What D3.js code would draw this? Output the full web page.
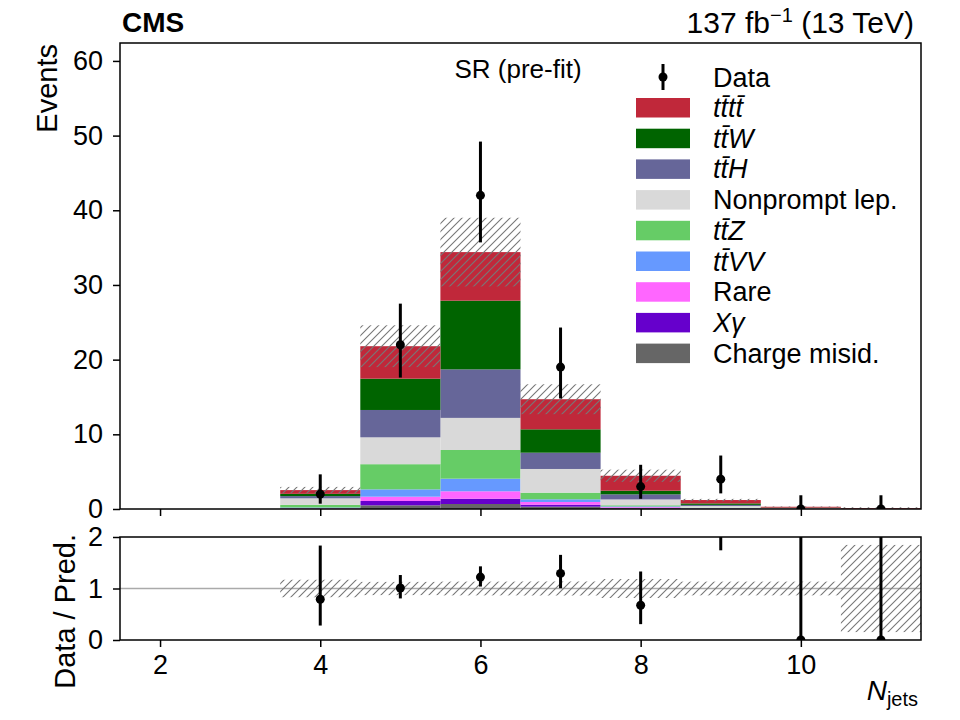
<!DOCTYPE html>
<html><head><meta charset="utf-8">
<script src="https://cdn.jsdelivr.net/npm/d3@7"></script>
<style>
body{margin:0;background:#fff;}
text{font-family:"Liberation Sans",Arial,Helvetica,sans-serif;fill:#000;}
</style></head>
<body><svg id="c" width="960" height="720"></svg>
<script>
// ---- data ----
const bins = [2,3,4,5,6,7,8,9,10,11];
const chargeMisid = [0,0,0.02,0.49,0.67,0.31,0.10,0.03,0.01,0.00];
const xGamma      = [0,0,0.03,0.58,0.71,0.27,0.05,0.02,0.00,0.00];
const rare        = [0,0,0.05,0.58,0.99,0.36,0.10,0.03,0.01,0.00];
const ttVV        = [0,0,0.10,0.98,1.69,0.36,0.10,0.04,0.01,0.00];
const ttZ         = [0,0,0.35,3.37,3.84,0.89,0.15,0.06,0.02,0.00];
const nonprompt   = [0,0,0.88,3.60,4.30,3.17,0.78,0.22,0.05,0.01];
const ttH         = [0,0,0.30,3.66,6.50,2.18,0.68,0.15,0.04,0.01];
const ttW         = [0,0,0.30,4.19,9.20,3.13,0.49,0.20,0.04,0.01];
const tttt        = [0,0,0.50,4.35,6.50,4.03,2.00,0.45,0.12,0.10];
const totalUnc    = [0,0,0.43,2.8,4.6,2.0,0.82,0.16,0.04,0.11];
const dataVals    = [null,null,2,22,42,19,3,4,0,0];
const dataLow     = [null,null,0.71,17.6,35.7,14.8,1.37,2.09,0,0];
const dataHigh    = [null,null,4.64,27.5,49.2,24.3,5.92,7.16,1.84,1.84];
const yTicksMain  = [0,10,20,30,40,50,60];
const yTicksRatio = [0,1,2];
const xTicks      = [2,4,6,8,10];

const procs = [
  {key:"charge", label:"Charge misid.", color:"#666666", vals:chargeMisid, it:false},
  {key:"xg", label:"Xγ", color:"#6600cc", vals:xGamma, it:true},
  {key:"rare", label:"Rare", color:"#ff66ff", vals:rare, it:false},
  {key:"ttvv", label:"tt\u0304VV", color:"#6699ff", vals:ttVV, it:true},
  {key:"ttz", label:"tt\u0304Z", color:"#66cc66", vals:ttZ, it:true},
  {key:"np", label:"Nonprompt lep.", color:"#d9d9d9", vals:nonprompt, it:false},
  {key:"tth", label:"tt\u0304H", color:"#666699", vals:ttH, it:true},
  {key:"ttw", label:"tt\u0304W", color:"#006400", vals:ttW, it:true},
  {key:"tttt", label:"tt\u0304tt\u0304", color:"#c0283a", vals:tttt, it:true}
];
const table = bins.map((b,i)=>{const r={bin:b}; procs.forEach(p=>r[p.key]=p.vals[i]); return r;});
const stack = d3.stack().keys(procs.map(p=>p.key))(table);
const totals = table.map(r=>d3.sum(procs,p=>r[p.key]));

const svg = d3.select("#c");
const L=120,R=921, mT=43,mB=509, rT=537,rB=640;
const x = d3.scaleLinear().domain([1.5,11.5]).range([L,R]);
const y = d3.scaleLinear().domain([0,62.4]).range([mB,mT]);
const yr = d3.scaleLinear().domain([0,2]).range([rB,rT]);

const defs = svg.append("defs");
const pat = defs.append("pattern").attr("id","hatch").attr("patternUnits","userSpaceOnUse").attr("width",8).attr("height",8);
pat.append("path").attr("d","M-2,2 L2,-2 M0,8 L8,0 M6,10 L10,6").attr("stroke","#777").attr("stroke-width",1.1);
defs.append("clipPath").attr("id","cm").append("rect").attr("x",L).attr("y",mT).attr("width",R-L).attr("height",mB-mT);
defs.append("clipPath").attr("id","cr").append("rect").attr("x",L).attr("y",rT).attr("width",R-L).attr("height",rB-rT);

// main stack
const gm = svg.append("g").attr("clip-path","url(#cm)");
stack.forEach((layer,li)=>{
  gm.selectAll(null).data(layer).enter().append("rect")
    .attr("x",d=>x(d.data.bin-0.5)).attr("width",d=>x(d.data.bin+0.5)-x(d.data.bin-0.5))
    .attr("y",d=>y(d[1])).attr("height",d=>Math.max(0,y(d[0])-y(d[1])))
    .attr("fill",procs[li].color);
});
// uncertainty hatch
gm.selectAll(null).data(bins.map((b,i)=>({b,t:totals[i],u:totalUnc[i]})).filter(d=>d.t>0)).enter().append("rect")
  .attr("x",d=>x(d.b-0.5)).attr("width",d=>x(d.b+0.5)-x(d.b-0.5))
  .attr("y",d=>y(d.t+d.u)).attr("height",d=>y(Math.max(0,d.t-d.u))-y(d.t+d.u))
  .attr("fill","url(#hatch)");
// data
const dpts = bins.map((b,i)=>({b,v:dataVals[i],lo:dataLow[i],hi:dataHigh[i],t:totals[i]})).filter(d=>d.v!==null);
gm.selectAll(null).data(dpts).enter().append("line")
  .attr("x1",d=>x(d.b)).attr("x2",d=>x(d.b)).attr("y1",d=>y(d.lo)).attr("y2",d=>y(d.hi))
  .attr("stroke","#000").attr("stroke-width",3);
gm.selectAll(null).data(dpts).enter().append("circle")
  .attr("cx",d=>x(d.b)).attr("cy",d=>y(d.v)).attr("r",4.5).attr("fill","#000");

// ratio
const gr = svg.append("g").attr("clip-path","url(#cr)");
gr.append("line").attr("x1",L).attr("x2",R).attr("y1",yr(1)).attr("y2",yr(1)).attr("stroke","#aaa").attr("stroke-width",1.5);
gr.selectAll(null).data(bins.map((b,i)=>({b,t:totals[i],u:totalUnc[i]})).filter(d=>d.t>0)).enter().append("rect")
  .attr("x",d=>x(d.b-0.5)).attr("width",d=>x(d.b+0.5)-x(d.b-0.5))
  .attr("y",d=>yr(1+d.u/d.t)).attr("height",d=>yr(1-d.u/d.t)-yr(1+d.u/d.t))
  .attr("fill","url(#hatch)");
gr.selectAll(null).data(dpts).enter().append("line")
  .attr("x1",d=>x(d.b)).attr("x2",d=>x(d.b)).attr("y1",d=>yr(d.lo/d.t)).attr("y2",d=>yr(Math.min(d.hi/d.t,5)))
  .attr("stroke","#000").attr("stroke-width",3);
gr.selectAll(null).data(dpts).enter().append("circle")
  .attr("cx",d=>x(d.b)).attr("cy",d=>yr(d.v/d.t)).attr("r",4.5).attr("fill","#000");

// axes
function frame(t,b){svg.append("rect").attr("x",L).attr("y",t).attr("width",R-L).attr("height",b-t).attr("fill","none").attr("stroke","#000").attr("stroke-width",1.5);}
frame(mT,mB); frame(rT,rB);
const fs = 27;
const ax1 = svg.append("g").attr("transform",`translate(${L},0)`).call(d3.axisLeft(y).tickValues(yTicksMain).tickSize(7).tickPadding(10).tickFormat(d3.format("d")));
const ax2 = svg.append("g").attr("transform",`translate(${L},0)`).call(d3.axisLeft(yr).tickValues(yTicksRatio).tickSize(7).tickPadding(10).tickFormat(d3.format("d")));
const ax3 = svg.append("g").attr("transform",`translate(0,${mB})`).call(d3.axisBottom(x).tickValues(xTicks).tickSize(7).tickFormat(""));
const ax4 = svg.append("g").attr("transform",`translate(0,${rB})`).call(d3.axisBottom(x).tickValues(xTicks).tickSize(7).tickPadding(8).tickFormat(d3.format("d")));
[ax1,ax2,ax3,ax4].forEach(a=>{a.select(".domain").remove(); a.selectAll("line").attr("stroke","#000").attr("stroke-width",1.5);
  a.selectAll("text").attr("font-size",fs).attr("font-family","Liberation Sans, Arial, sans-serif").attr("fill","#000");});

// labels
svg.append("text").attr("x",122).attr("y",32).attr("font-size",28).attr("font-weight","bold").text("CMS");
const lum = svg.append("text").attr("x",914).attr("y",33).attr("font-size",30).attr("text-anchor","end");
lum.append("tspan").text("137 fb");
lum.append("tspan").attr("dy",-11).attr("font-size",20).text("−1");
lum.append("tspan").attr("dy",11).text(" (13 TeV)");
svg.append("text").attr("transform","translate(57,44) rotate(-90)").attr("text-anchor","end").attr("font-size",29).text("Events");
svg.append("text").attr("transform","translate(75,534) rotate(-90)").attr("text-anchor","end").attr("font-size",29).text("Data / Pred.");
const xl = svg.append("text").attr("x",918).attr("y",700).attr("text-anchor","end").attr("font-size",28);
xl.append("tspan").attr("font-style","italic").text("N");
xl.append("tspan").attr("dy",6).attr("font-size",20).text("jets");
svg.append("text").attr("x",518).attr("y",78).attr("text-anchor","middle").attr("font-size",26).text("SR (pre-fit)");

// legend
const lg = svg.append("g");
lg.append("line").attr("x1",663).attr("x2",663).attr("y1",64).attr("y2",90).attr("stroke","#000").attr("stroke-width",3);
lg.append("circle").attr("cx",663).attr("cy",77).attr("r",4.5).attr("fill","#000");
lg.append("text").attr("x",713).attr("y",87).attr("font-size",27).text("Data");
procs.slice().reverse().forEach((p,i)=>{
  const yy = 98 + i*30.7;
  lg.append("rect").attr("x",636).attr("y",yy).attr("width",54).attr("height",19.5).attr("fill",p.color);
  lg.append("text").attr("x",713).attr("y",yy+19).attr("font-size",27).attr("font-style",p.it?"italic":"normal").text(p.label);
});
</script></body></html>
